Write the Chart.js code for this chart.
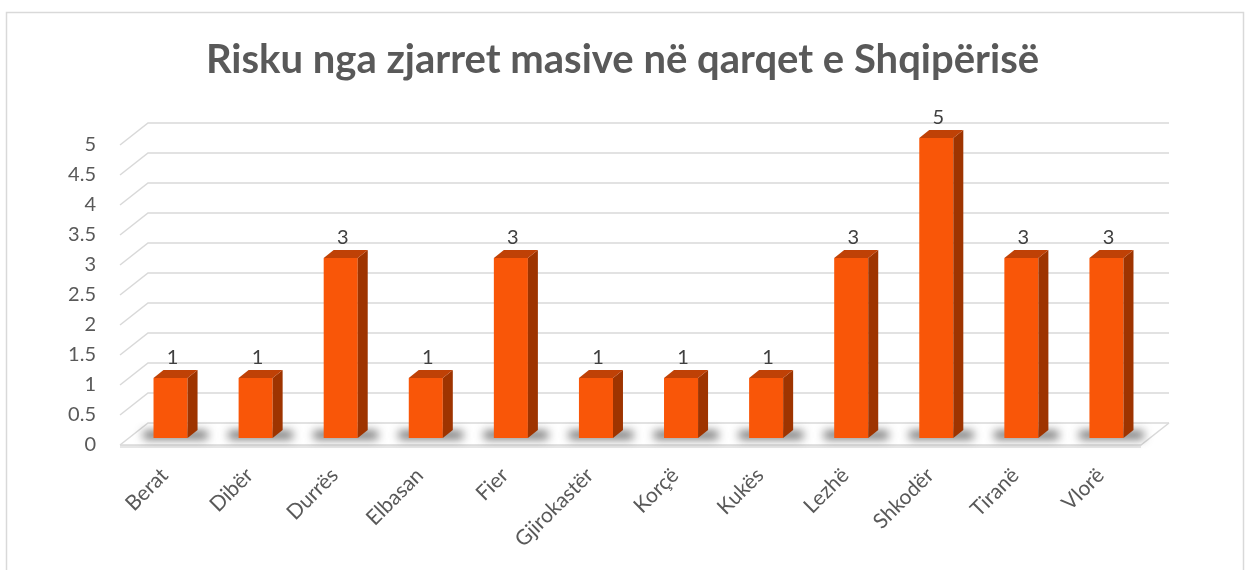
<!DOCTYPE html>
<html><head><meta charset="utf-8">
<script src="https://cdn.jsdelivr.net/npm/chart.js@4.4.0/dist/chart.umd.min.js"></script>
<style>html,body{margin:0;padding:0;background:#fff;overflow:hidden}</style>
</head><body>
<canvas id="c" width="1245" height="570"></canvas>
<script>
const chartTitle = 'Risku nga zjarret masive në qarqet e Shqipërisë';
const categories = ['Berat','Dibër','Durrës','Elbasan','Fier','Gjirokastër','Korçë','Kukës','Lezhë','Shkodër','Tiranë','Vlorë'];
const riskValues = [1,1,3,1,3,1,1,1,3,5,3,3];
const yTicks = [0,0.5,1,1.5,2,2.5,3,3.5,4,4.5,5];

const FRONT = '#f95608', SIDE = '#9e3400', TOP = '#bf4106';
const GRID = '#d9d9d9';
const BACK_DX = 20, BACK_DY = -15, EDGE_DX = -8, EDGE_DY = 7, BAR_DX = 10, BAR_DY = -8;

const threeD = {
  id: 'threeD',
  beforeDraw(chart) {
    const ctx = chart.ctx;
    ctx.save();
    ctx.fillStyle = '#fff';
    ctx.fillRect(0, 0, chart.width, chart.height);
    ctx.strokeStyle = '#d9d9d9';
    ctx.lineWidth = 1.5;
    ctx.strokeRect(6.5, 12.5, 1237, 600);
    ctx.restore();
  },
  beforeDatasetsDraw(chart) {
    const ctx = chart.ctx, ys = chart.scales.y, a = chart.chartArea;
    ctx.save();
    ctx.strokeStyle = GRID;
    ctx.lineWidth = 1.5;
    yTicks.forEach(v => {
      const y = ys.getPixelForValue(v);
      ctx.beginPath();
      ctx.moveTo(a.left + EDGE_DX, y + EDGE_DY);
      ctx.lineTo(a.left + BACK_DX, y + BACK_DY);
      ctx.lineTo(a.right + BACK_DX, y + BACK_DY);
      ctx.stroke();
    });
    const y0 = ys.getPixelForValue(0);
    ctx.fillStyle = '#e6e6e6';
    ctx.fillRect(a.left + EDGE_DX, y0 + EDGE_DY, a.right - a.left, 3);
    ctx.beginPath();
    ctx.moveTo(a.left + EDGE_DX, y0 + EDGE_DY);
    ctx.lineTo(a.right + EDGE_DX, y0 + EDGE_DY);
    ctx.lineTo(a.right + BACK_DX, y0 + BACK_DY);
    ctx.stroke();
    const meta = chart.getDatasetMeta(0);
    ctx.save();
    ctx.filter = 'blur(5px)';
    ctx.fillStyle = 'rgba(40,40,40,0.7)';
    meta.data.forEach(bar => {
      const l = bar.x - bar.width / 2, r = bar.x + bar.width / 2;
      ctx.fillRect(l - 10, bar.base - 7, (r - l) + 30, 8);
    });
    ctx.restore();
    ctx.restore();
  },
  afterDatasetsDraw(chart) {
    const ctx = chart.ctx;
    const meta = chart.getDatasetMeta(0);
    ctx.save();
    meta.data.forEach((bar, i) => {
      const l = bar.x - bar.width / 2, r = bar.x + bar.width / 2, t = bar.y, b = bar.base;
      ctx.fillStyle = SIDE;
      ctx.beginPath();
      ctx.moveTo(r, t); ctx.lineTo(r + BAR_DX, t + BAR_DY);
      ctx.lineTo(r + BAR_DX, b + BAR_DY); ctx.lineTo(r, b); ctx.closePath(); ctx.fill();
      ctx.fillStyle = TOP;
      ctx.beginPath();
      ctx.moveTo(l, t); ctx.lineTo(l + BAR_DX, t + BAR_DY);
      ctx.lineTo(r + BAR_DX, t + BAR_DY); ctx.lineTo(r, t); ctx.closePath(); ctx.fill();
      ctx.fillStyle = '#404040';
      ctx.font = '20px Lato';
      ctx.textAlign = 'center';
      ctx.textBaseline = 'middle';
      ctx.fillText(String(riskValues[i]), bar.x + 2, t + BAR_DY - 12);
    });
    ctx.restore();
  }
};

new Chart(document.getElementById('c'), {
  type: 'bar',
  data: {
    labels: categories,
    datasets: [{
      data: riskValues,
      backgroundColor: FRONT,
      borderWidth: 0,
      categoryPercentage: 1,
      barPercentage: 0.4
    }]
  },
  options: {
    responsive: false,
    animation: false,
    events: [],
    layout: { padding: 0 },
    plugins: {
      legend: { display: false },
      tooltip: { enabled: false },
      title: {
        display: true,
        text: chartTitle,
        color: '#595959',
        font: { family: 'Lato', size: 40, weight: 'bold', lineHeight: 1.2 },
        padding: { top: 36, bottom: 54 }
      }
    },
    scales: {
      x: {
        grid: { display: false, drawTicks: false },
        border: { display: false },
        ticks: {
          color: '#595959',
          font: { family: 'Lato', size: 21 },
          minRotation: 45, maxRotation: 45,
          autoSkip: false,
          padding: 25,
          labelOffset: -6
        },
        afterFit: s => { s.height = 132; }
      },
      y: {
        min: 0, max: 5,
        afterBuildTicks: s => { s.ticks = yTicks.map(v => ({ value: v })); },
        grid: { display: false, drawTicks: false },
        border: { display: false },
        ticks: {
          color: '#595959',
          font: { family: 'Lato', size: 20 },
          padding: 32,
          labelOffset: 7,
          callback: v => String(v)
        },
        afterFit: s => { s.width = 128; }
      },
      yRight: {
        position: 'right',
        min: 0, max: 5,
        grid: { display: false, drawTicks: false },
        border: { display: false },
        ticks: { display: false },
        afterFit: s => { s.width = 96; }
      }
    }
  },
  plugins: [threeD]
});
</script>
</body></html>
